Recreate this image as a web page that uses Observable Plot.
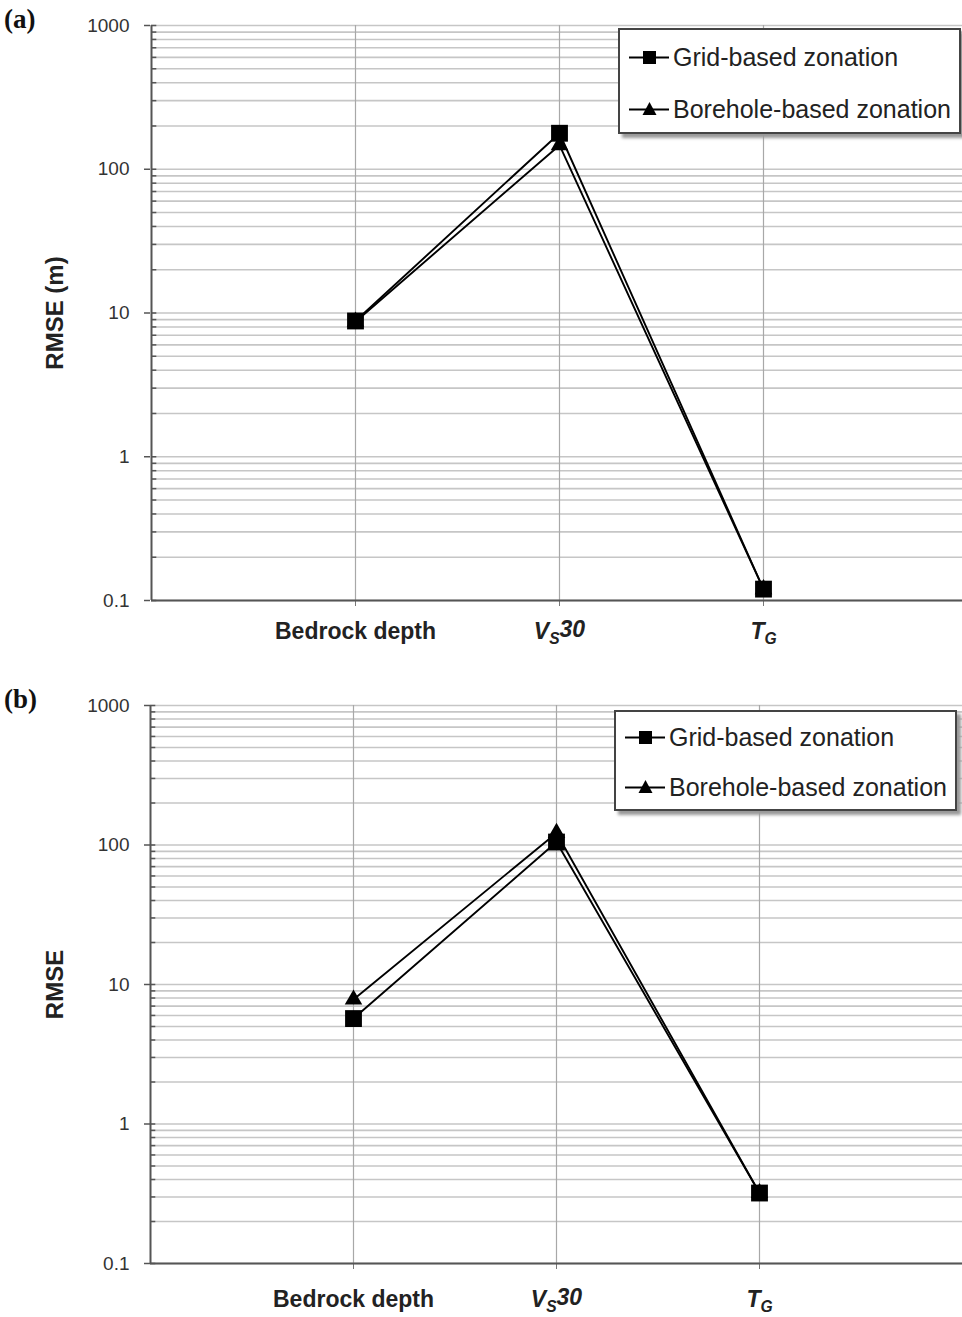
<!DOCTYPE html>
<html><head><meta charset="utf-8">
<script src="https://cdn.jsdelivr.net/npm/d3@7"></script>
<script src="https://cdn.jsdelivr.net/npm/@observablehq/plot@0.6"></script>
<style>
body{margin:0;background:#fff;font-family:"Liberation Sans",Arial,sans-serif;}
#fig{position:relative;width:962px;height:1317px;overflow:hidden;}
.panel{position:absolute;left:0;width:962px;}
.plabel{position:absolute;left:4px;font-family:"Liberation Serif","DejaVu Serif",serif;font-weight:bold;font-size:27px;color:#111;}
.legend{position:absolute;background:#fff;border:2px solid #444;box-shadow:4px 4px 3px #999;box-sizing:border-box;}
.legend .row{display:flex;align-items:center;font-size:25px;color:#222;white-space:nowrap;}
.legend svg{display:block;margin-left:8px;margin-right:3px;}
g[aria-label="y-axis tick label"]{font-size:19px;}
g[aria-label="y-axis tick label"] text{fill:#333;}
g[aria-label="x-axis tick label"]{font-size:23px;}
</style></head><body><div id="fig"></div>
<script>
const categories = ["Bedrock depth", "V_S30", "T_G"];
const seriesNames = ["Grid-based zonation", "Borehole-based zonation"];
const gridA = [8.8, 178, 0.12];
const boreholeA = [8.7, 147, 0.12];
const gridB = [5.7, 105, 0.32];
const boreholeB = [7.8, 122, 0.32];
const yTicks = [0.1, 1, 10, 100, 1000];
const yLabels = ["RMSE (m)", "RMSE"];
const panelLabels = ["(a)", "(b)"];

const minor = [];
for (const p of [0.1, 1, 10, 100]) for (let k = 1; k <= 9; k++) minor.push(+(p * k).toPrecision(3));
minor.push(1000);

const fig = document.getElementById("fig");

function makePanel({top, height, marginBottom, tickPadding, xRange, grid, borehole, ylabel, plabel, legend}) {
  const rows = categories.flatMap((c, i) => [
    {x: i + 1, series: seriesNames[0], v: grid[i]},
    {x: i + 1, series: seriesNames[1], v: borehole[i]}
  ]);
  const chart = Plot.plot({
    width: 962, height, marginTop: 25, marginLeft: 150, marginRight: 0, marginBottom,
    x: {type: "linear", domain: [0, 4], range: xRange},
    y: {type: "log", domain: [0.1, 1000]},
    style: {fontFamily: "'Liberation Sans', Arial, sans-serif", background: "white", color: "#222"},
    marks: [
      Plot.ruleY(minor, {x1: 0, x2: 4, stroke: "#c6c6c6", strokeWidth: 1.6}),
      Plot.ruleX([1, 2, 3], {stroke: "#a8a8a8", strokeWidth: 1.2}),
      Plot.ruleY(minor, {x1: 0, x2: 0.026, stroke: "#555", strokeWidth: 1.5}),
      Plot.axisY({ticks: yTicks, tickFormat: d => String(d), tickSize: 6, tickPadding: 15, stroke: "#555", strokeWidth: 1.5, label: null}),
      Plot.axisX({ticks: [1, 2, 3], tickFormat: d => categories[d - 1], tickSize: 6, tickPadding, fontWeight: "bold", stroke: "#777", label: null}),
      Plot.ruleX([0], {stroke: "#555", strokeWidth: 2}),
      Plot.ruleY([0.1], {x1: 0, x2: 4, stroke: "#555", strokeWidth: 2}),
      Plot.text([ylabel], {frameAnchor: "left", dx: -95, rotate: -90, fontSize: 24, fontWeight: "bold", fill: "#222", textAnchor: "middle"}),
      Plot.line(rows, {x: "x", y: "v", z: "series", stroke: "black", strokeWidth: 1.9}),
      Plot.dot(rows.filter(d => d.series === seriesNames[1]), {x: "x", y: "v", symbol: "triangle", r: 6.5, fill: "black", stroke: "none"}),
      Plot.dot(rows.filter(d => d.series === seriesNames[0]), {x: "x", y: "v", symbol: "square", r: 9.5, fill: "black", stroke: "none"})
    ]
  });
  d3.select(chart).selectAll('g[aria-label="x-axis tick label"] text').each(function() {
    const t = this.textContent;
    const m = t.match(/^(.)_(.)(.*)$/);
    if (!m) return;
    const sel = d3.select(this);
    sel.text(null).attr("font-style", "italic");
    sel.append("tspan").text(m[1]);
    sel.append("tspan").attr("font-size", "0.68em").attr("dy", "0.3em").text(m[2]);
    if (m[3]) sel.append("tspan").attr("dy", "-0.3em").text(m[3]);
  });
  const wrap = document.createElement("div");
  wrap.className = "panel";
  wrap.style.top = top + "px";
  wrap.appendChild(chart);
  const pl = document.createElement("div");
  pl.className = "plabel";
  pl.style.top = "4px";
  pl.textContent = plabel;
  wrap.appendChild(pl);
  const lg = document.createElement("div");
  lg.className = "legend";
  Object.assign(lg.style, {left: legend.left + "px", top: legend.top + "px", width: legend.width + "px", height: legend.height + "px", paddingTop: legend.pad + "px"});
  seriesNames.forEach((name, i) => {
    const row = document.createElement("div");
    row.className = "row";
    row.style.height = legend.row + "px";
    const sym = i === 0
      ? '<rect x="15" y="5" width="13" height="13" fill="black"/>'
      : '<path d="M21.5,4 L28.5,17 L14.5,17 Z" fill="black"/>';
    row.innerHTML = `<svg width="42" height="22"><line x1="1" y1="11.5" x2="41" y2="11.5" stroke="black" stroke-width="1.8"/>${sym}</svg><span>${name}</span>`;
    lg.appendChild(row);
  });
  wrap.appendChild(lg);
  fig.appendChild(wrap);
}

makePanel({top: 0, height: 660, marginBottom: 60, tickPadding: 16, xRange: [151, 967], grid: gridA, borehole: boreholeA, ylabel: yLabels[0], plabel: panelLabels[0],
  legend: {left: 618, top: 28, width: 343, height: 106, pad: 1, row: 52}});
makePanel({top: 680, height: 637, marginBottom: 54, tickPadding: 21, xRange: [150, 962], grid: gridB, borehole: boreholeB, ylabel: yLabels[1], plabel: panelLabels[1],
  legend: {left: 614, top: 30, width: 343, height: 101, pad: 0, row: 50}});
</script></body></html>
